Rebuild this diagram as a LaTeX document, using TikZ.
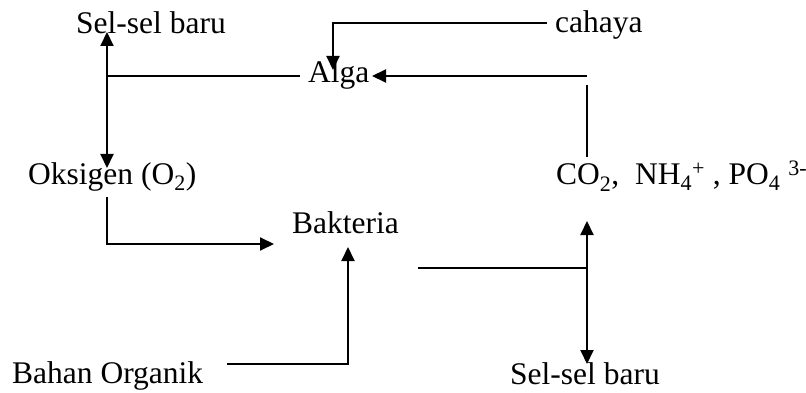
\documentclass[tikz,border=0pt]{standalone}
\usepackage{fontspec}
\setmainfont{Liberation Serif}
\usetikzlibrary{arrows.meta}
\begin{document}
\begin{tikzpicture}[x=1pt,y=-1pt,
  lbl/.style={anchor=base west,inner sep=0pt,font=\fontsize{31.5}{36}\selectfont},
  conn/.style={line width=2pt},
  arr/.style={conn,-{Triangle[length=14pt,width=13pt]}},
  darr/.style={conn,{Triangle[length=14pt,width=13pt]}-{Triangle[length=14pt,width=13pt]}}]
\useasboundingbox (0,0) rectangle (806,393);
% labels
\node[lbl] (selA) at (76,34) {Sel-sel baru};
\node[lbl] (alga) at (308,83) {Alga};
\node[lbl] (cahaya) at (555,33) {cahaya};
\node[lbl] (oks) at (28,184) {Oksigen (O\textsubscript{2})};
\node[lbl] (nut) at (556,185) {CO\textsubscript{2},\ \ NH\textsubscript{4}\textsuperscript{+} , PO\textsubscript{4} \textsuperscript{3-}};
\node[lbl] (bak) at (292,233) {Bakteria};
\node[lbl] (bahan) at (12,383) {Bahan Organik};
\node[lbl] (selB) at (510,384) {Sel-sel baru};
% connector points
\coordinate (aTop) at (107,32);
\coordinate (aBot) at (107,168);
\coordinate (aMid) at (107,76);
\coordinate (algaL) at (300,76);
\coordinate (cahL) at (547,23);
\coordinate (cahC) at (333,23);
\coordinate (algaT) at (333,70);
\coordinate (rTop) at (587,76);
\coordinate (algaR) at (372,76);
\coordinate (rV1) at (587,85);
\coordinate (rV2) at (587,157);
\coordinate (oB) at (107,197);
\coordinate (oC) at (107,244);
\coordinate (bakL) at (274,244);
\coordinate (boR) at (227,364);
\coordinate (boC) at (348,364);
\coordinate (bakB) at (348,247);
\coordinate (bakR) at (418,268);
\coordinate (sJ) at (587,268);
\coordinate (sTop) at (587,221);
\coordinate (sBot) at (587,364);
% connectors
\draw[darr] (aTop) -- (aBot);
\draw[conn] (aMid) -- (algaL);
\draw[arr] (cahL) -- (cahC) -- (algaT);
\draw[arr] (rTop) -- (algaR);
\draw[conn] (rV1) -- (rV2);
\draw[arr] (oB) -- (oC) -- (bakL);
\draw[arr] (boR) -- (boC) -- (bakB);
\draw[conn] (bakR) -- (sJ);
\draw[darr] (sTop) -- (sBot);
\end{tikzpicture}
\end{document}
